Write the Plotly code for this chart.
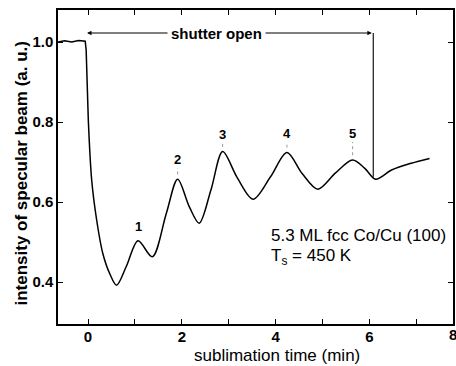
import plotly.graph_objects as go

# sublimation time (min) and specular beam intensity (a.u.)
time_min = [-0.64, -0.5, -0.35, -0.2, -0.06, -0.04, 0.006, 0.078, 0.184, 0.318, 0.466,
            0.608, 0.82, 1.066, 1.37, 1.67, 1.91, 2.16, 2.37, 2.62, 2.87, 3.18, 3.52,
            3.89, 4.24, 4.56, 4.90, 5.27, 5.64, 5.90, 6.13, 6.47, 6.89, 7.28]
intensity = [1.0, 1.003, 1.0, 1.004, 1.002, 0.98, 0.805, 0.655, 0.555, 0.47, 0.42,
             0.392, 0.44, 0.503, 0.463, 0.572, 0.657, 0.588, 0.547, 0.63, 0.726, 0.661, 0.607,
             0.663, 0.724, 0.672, 0.632, 0.672, 0.705, 0.684, 0.657, 0.68, 0.697, 0.709]
SPLIT = 6  # index where the shutter-opening drop ends and the smooth oscillation begins

peak_labels = ["1", "2", "3", "4", "5"]
peak_x = [1.066, 1.91, 2.87, 4.24, 5.64]
peak_y = [0.503, 0.657, 0.726, 0.724, 0.705]
label_y = [0.538, 0.707, 0.768, 0.772, 0.772]

x_ticks = [0, 2, 4, 6]
y_ticks = [0.4, 0.6, 0.8, 1.0]
shutter_start, shutter_end, shutter_y = -0.02, 6.08, 1.0225
shutter_bottom = 0.663

FONT = "Liberation Sans, Arial, sans-serif"

fig = go.Figure()
fig.add_trace(go.Scatter(x=time_min[:SPLIT + 1], y=intensity[:SPLIT + 1], mode="lines",
                         line=dict(color="black", width=1.5),
                         hoverinfo="skip", showlegend=False))
fig.add_trace(go.Scatter(x=time_min[SPLIT:], y=intensity[SPLIT:], mode="lines",
                         line=dict(color="black", width=1.5, shape="spline", smoothing=0.9),
                         hoverinfo="skip", showlegend=False))

# peak labels
for lab, px, py, ly in zip(peak_labels, peak_x, peak_y, label_y):
    fig.add_annotation(x=px, y=ly, text=lab, showarrow=False, xanchor="center", yanchor="middle",
                       font=dict(family=FONT, size=13, color="black", weight="bold"))
    if lab != "1":
        fig.add_shape(type="line", x0=px, x1=px, y0=py + 0.012, y1=ly - 0.022,
                      line=dict(color="#999", width=1, dash="dot"))

# shutter arrow
fig.add_annotation(x=shutter_start, y=shutter_y, ax=shutter_end, ay=shutter_y,
                   xref="x", yref="y", axref="x", ayref="y", text="", showarrow=True,
                   arrowhead=2, arrowside="end+start", arrowsize=0.8, arrowwidth=1.1,
                   arrowcolor="black")
fig.add_shape(type="line", x0=shutter_end, x1=shutter_end, y0=shutter_y, y1=shutter_bottom,
              line=dict(color="black", width=1.1))
fig.add_annotation(x=2.73, y=shutter_y, text="shutter open", showarrow=False,
                   bgcolor="white", borderpad=3,
                   font=dict(family=FONT, size=15, color="black", weight="bold"))

# sample description
fig.add_annotation(x=3.86, y=0.5165, text="5.3 ML fcc Co/Cu (100)", showarrow=False,
                   xanchor="left", yanchor="middle",
                   font=dict(family=FONT, size=17, color="black"))
fig.add_annotation(x=3.86, y=0.462, text="T<sub>s</sub> = 450 K", showarrow=False,
                   xanchor="left", yanchor="middle",
                   font=dict(family=FONT, size=17, color="black"))

# axis titles
fig.add_annotation(xref="paper", yref="paper", x=-0.093, y=0.48, textangle=-90,
                   xanchor="center", yanchor="middle",
                   text="intensity of specular beam (a. u.)", showarrow=False,
                   font=dict(family=FONT, size=17, color="black", weight="bold"))
fig.add_annotation(xref="paper", yref="paper", x=0.554, y=-0.099,
                   xanchor="center", yanchor="middle",
                   text="sublimation time (min)", showarrow=False,
                   font=dict(family=FONT, size=17, color="black"))
fig.add_annotation(xref="paper", yref="paper", x=0.985, y=-0.032, yanchor="middle",
                   xanchor="left", text="8", showarrow=False,
                   font=dict(family=FONT, size=15, color="black", weight="bold"))

fig.update_xaxes(range=[-0.64, 7.78], tickvals=x_ticks, ticktext=[str(v) for v in x_ticks],
                 showgrid=False, zeroline=False, showline=True, linecolor="black", linewidth=1.5,
                 mirror="ticks", ticks="inside", ticklen=5, tickcolor="black", tickwidth=1.2,
                 minor=dict(dtick=1, tick0=0, ticks="inside", ticklen=5, tickcolor="black",
                            tickwidth=1.2, showgrid=False),
                 ticklabelstandoff=-2,
                 tickfont=dict(family=FONT, size=15, color="black", weight="bold"))
fig.update_yaxes(range=[0.295, 1.08], tickvals=y_ticks, ticktext=["0.4", "0.6", "0.8", "1.0"],
                 showgrid=False, zeroline=False, showline=True, linecolor="black", linewidth=1.5,
                 mirror="ticks", ticks="inside", ticklen=5, tickcolor="black", tickwidth=1.2,
                 tickfont=dict(family=FONT, size=15, color="black", weight="bold"))

fig.update_layout(width=456, height=366, margin=dict(l=58, r=1, t=10, b=42),
                  plot_bgcolor="white", paper_bgcolor="white")

fig.write_html("out.html")
